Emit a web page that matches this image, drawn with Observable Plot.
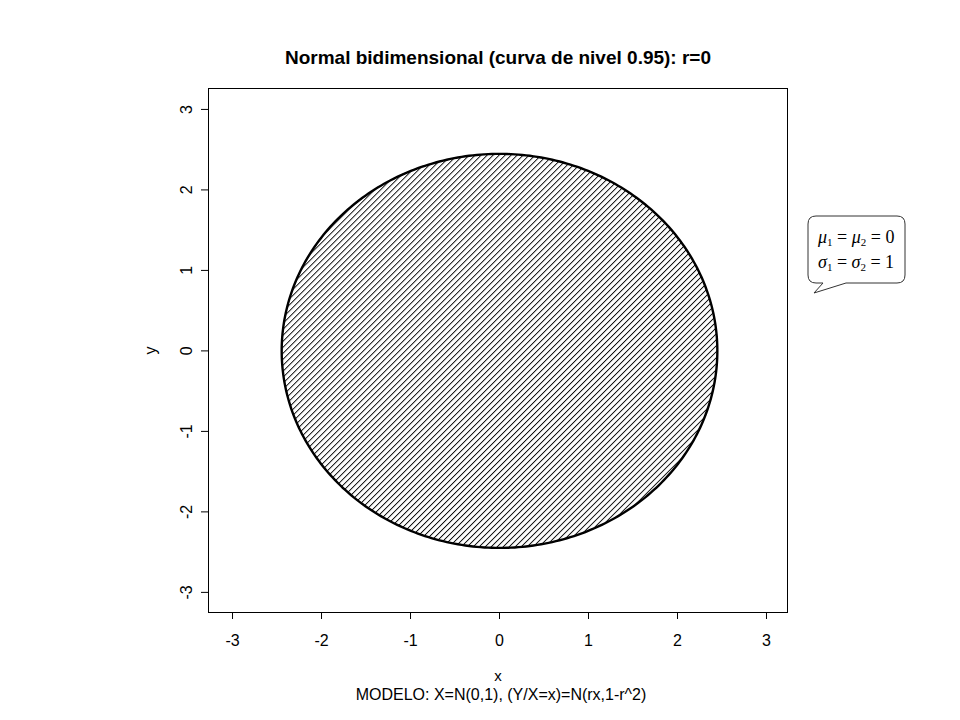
<!DOCTYPE html>
<html>
<head>
<meta charset="utf-8">
<script src="https://cdn.jsdelivr.net/npm/d3@7"></script>
<script src="https://cdn.jsdelivr.net/npm/@observablehq/plot@0.6"></script>
<style>
  html, body { margin: 0; padding: 0; background: #fff; }
  #chart { width: 960px; height: 720px; }
</style>
</head>
<body>
<div id="chart"></div>
<script>
// ---- data / parameters ----
const titleText = "Normal bidimensional (curva de nivel 0.95): r=0";
const xLabel = "x";
const yLabel = "y";
const subtitleText = "MODELO: X=N(0,1), (Y/X=x)=N(rx,1-r^2)";
const xTicks = [-3, -2, -1, 0, 1, 2, 3];
const yTicks = [-3, -2, -1, 0, 1, 2, 3];
const mu = [0, 0];
const sigma = [1, 1];
const r = 0;
const level = 0.95;
const chi2Level = 5.991; // chi-square(2) quantile at 0.95
const xDomain = [-3.27, 3.236];
const yDomain = [-3.25, 3.26];

// contour of the bivariate normal at the 0.95 level (r = 0 -> circle)
const R = Math.sqrt(chi2Level);
const nPts = 361;
const contour = d3.range(nPts).map(i => {
  const t = (2 * Math.PI * i) / (nPts - 1);
  const u = Math.cos(t), v = Math.sin(t);
  return {
    x: mu[0] + R * sigma[0] * u,
    y: mu[1] + R * sigma[1] * (r * u + Math.sqrt(1 - r * r) * v)
  };
});
const band = d3.range(nPts).map(i => {
  const t = Math.PI - (Math.PI * i) / (nPts - 1);
  const xx = R * Math.cos(t);
  const h = R * Math.sin(t);
  return { x: mu[0] + xx, y1: mu[1] - h, y2: mu[1] + h };
});

const font = "'Liberation Sans', Arial, sans-serif";

const plot = Plot.plot({
  width: 960,
  height: 720,
  marginLeft: 208,
  marginRight: 173,
  marginTop: 88,
  marginBottom: 108,
  style: { fontFamily: font, fontSize: "16px", color: "black", background: "white" },
  x: { domain: xDomain },
  y: { domain: yDomain },
  marks: [
    Plot.areaY(band, { x: "x", y1: "y1", y2: "y2", fill: "url(#hatch)", fillOpacity: 1 }),
    Plot.line(contour, { x: "x", y: "y", stroke: "black", strokeWidth: 2.4 }),
    Plot.frame({ stroke: "black", strokeWidth: 1 }),
    Plot.axisX({ ticks: xTicks, tickSize: 7, tickPadding: 15, fontSize: 16, label: null, tickFormat: d => String(d) }),
    Plot.axisY({ ticks: yTicks, tickSize: 7, label: null, tickFormat: () => "" }),
    Plot.text(yTicks, { y: d => d, frameAnchor: "left", dx: -22, rotate: -90, textAnchor: "middle", lineAnchor: "middle", fontSize: 16, text: d => String(d) }),
    Plot.text([titleText], { frameAnchor: "top", dy: -31, fontSize: 19, fontWeight: "bold", text: d => d, lineAnchor: "middle" }),
    Plot.text([xLabel], { frameAnchor: "bottom", dy: 64, fontSize: 15, text: d => d, lineAnchor: "middle" }),
    Plot.text([subtitleText], { frameAnchor: "bottom", dy: 82, fontSize: 16, text: d => d, lineAnchor: "middle", dx: 3 }),
    Plot.text([yLabel], { frameAnchor: "left", dx: -58, rotate: -90, fontSize: 16, text: d => d, lineAnchor: "middle", textAnchor: "middle" })
  ]
});

// hatch pattern definition
const svg = d3.select(plot);
const defs = svg.insert("defs", ":first-child");
const pat = defs.append("pattern")
  .attr("id", "hatch")
  .attr("patternUnits", "userSpaceOnUse")
  .attr("width", 4.24)
  .attr("height", 10)
  .attr("patternTransform", "rotate(45)");
pat.append("line")
  .attr("x1", 0.5).attr("y1", 0).attr("x2", 0.5).attr("y2", 10)
  .attr("stroke", "black").attr("stroke-width", 0.9);

// callout annotation (legend box)
const g = svg.append("g").attr("text-anchor", "start");
g.append("path")
  .attr("d", "M816,216 H897 Q905,216 905,224 V275 Q905,283 897,283 H846 L814,293 L823,283 H816 Q808,283 808,275 V224 Q808,216 816,216 Z")
  .attr("fill", "white").attr("stroke", "#333").attr("stroke-width", 1);
const lines = [
  { sym: "\u03bc", rhs: "0", y: 243 },
  { sym: "\u03c3", rhs: "1", y: 268 }
];
lines.forEach(l => {
  const t = g.append("text")
    .attr("x", 818).attr("y", l.y)
    .attr("text-anchor", "start")
    .attr("font-family", "'Liberation Serif', 'Times New Roman', serif")
    .attr("font-size", 18).attr("fill", "black");
  t.append("tspan").attr("font-style", "italic").text(l.sym);
  t.append("tspan").attr("font-size", 11).attr("dy", 3).text("1");
  t.append("tspan").attr("dy", -3).text(" = ");
  t.append("tspan").attr("font-style", "italic").text(l.sym);
  t.append("tspan").attr("font-size", 11).attr("dy", 3).text("2");
  t.append("tspan").attr("dy", -3).text(" = " + l.rhs);
});

document.getElementById("chart").appendChild(plot);
</script>
</body>
</html>
